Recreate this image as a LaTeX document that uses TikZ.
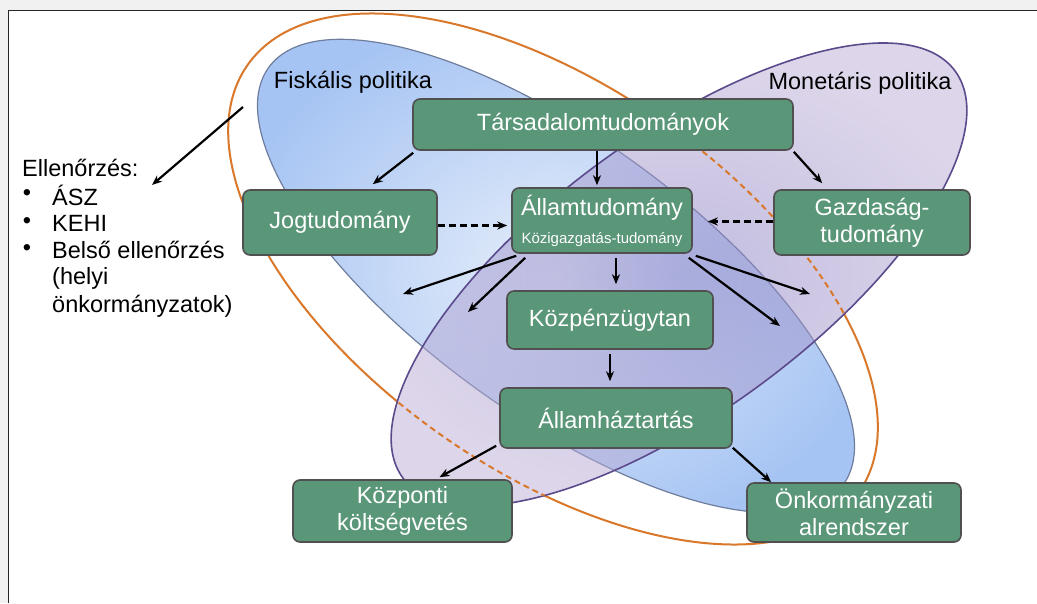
\documentclass[tikz,border=0pt]{standalone}
\usepackage{fontspec}
\setmainfont{Liberation Sans}
\usetikzlibrary{arrows.meta}
\definecolor{boxgreen}{HTML}{5A9678}
\definecolor{boxedge}{HTML}{505050}
\definecolor{orng}{HTML}{D9782A}
\definecolor{blueA}{HTML}{A6C4F3}
\definecolor{blueB}{HTML}{E6EEFA}
\definecolor{purpA}{HTML}{867CC2}
\definecolor{purpB}{HTML}{BDAFD7}
\definecolor{purpEdge}{HTML}{5B4A8C}
\definecolor{blueEdge}{HTML}{6F7D9C}
\definecolor{bandgray}{HTML}{F1F1F1}
\begin{document}
\begin{tikzpicture}[x=1pt,y=-1pt,
  box/.style={draw=boxedge, line width=1.6pt, fill=boxgreen, rounded corners=7pt,
    text=white, font=\fontsize{23.5}{27}\selectfont, align=center, inner sep=0pt},
  arr/.style={line width=2.2pt, -{Stealth[length=10pt,width=8pt]}},
  darr/.style={arr, dash pattern=on 7pt off 4pt},
  lbl/.style={font=\fontsize{23.5}{27}\selectfont, inner sep=0pt},
  orangeline/.style={orng, line width=2pt}]
\useasboundingbox (0,0) rectangle (1037,603);
\fill[white] (0,0) rectangle (1037,603);
\fill[bandgray] (0,0) rectangle (1037,10);
\fill[bandgray] (0,10) rectangle (8,603);
\draw[line width=1.8pt, black!85] (8.5,603) -- (8.5,10.5) -- (1037,10.5);

% Fiskalis (blue) ellipse
\shade[rotate around={-36:(556,276)}, inner color=blueB, outer color=blueA]
  (556,276) ellipse [x radius=355pt, y radius=138pt];
\draw[blueEdge, line width=1.2pt, rotate around={-36:(556,276)}]
  (556,276) ellipse [x radius=355pt, y radius=138pt];

% orange ellipse, solid outside the purple one
\begin{scope}[rotate around={36.4:(679,274.5)}, even odd rule]
  \clip (679,274.5) ellipse [x radius=343pt, y radius=137pt]
    (-2000,-2000) rectangle (3000,3000);
  \begin{scope}[rotate around={-36.4:(679,274.5)}]
    \draw[orangeline, rotate around={-35:(553,279)}]
      (553,279) ellipse [x radius=373pt, y radius=192pt];
  \end{scope}
\end{scope}

% Monetaris (purple) ellipse
\shade[rotate around={36.4:(679,274.5)}, inner color=purpA, outer color=purpB, fill opacity=0.5]
  (679,274.5) ellipse [x radius=343pt, y radius=137pt];
\draw[purpEdge, line width=1.6pt, rotate around={36.4:(679,274.5)}]
  (679,274.5) ellipse [x radius=343pt, y radius=137pt];

% orange ellipse, dashed inside the purple one
\begin{scope}[rotate around={36.4:(679,274.5)}]
  \clip (679,274.5) ellipse [x radius=343pt, y radius=137pt];
  \begin{scope}[rotate around={-36.4:(679,274.5)}]
    \draw[orangeline, dash pattern=on 6pt off 4pt, rotate around={-35:(553,279)}]
      (553,279) ellipse [x radius=373pt, y radius=192pt];
  \end{scope}
\end{scope}

% labels
\node[lbl] (fisk) at (353,82) {Fiskális politika};
\node[lbl] (monet) at (860,83) {Monetáris politika};
\node[lbl, anchor=west] (ell) at (22,168) {Ellenőrzés:};
\node[lbl] (b1) at (27,195) {•};
\node[lbl] (b2) at (27,223) {•};
\node[lbl] (b3) at (27,250) {•};
\node[lbl, anchor=west] (asz) at (52,195) {ÁSZ};
\node[lbl, anchor=west] (kehi) at (52,223) {KEHI};
\node[lbl, anchor=west] (belso) at (52,250) {Belső ellenőrzés};
\node[lbl, anchor=west] (helyi) at (52,278) {(helyi};
\node[lbl, anchor=west] (onkk) at (52,306) {önkormányzatok)};

% boxes
\node[box, minimum width=380pt, minimum height=51pt] (tars) at (603,124.5) {Társadalomtudományok};
\node[box, minimum width=194pt, minimum height=65pt] (jog) at (340,222.5) {Jogtudomány};
\node[box, minimum width=180pt, minimum height=65pt] (allam) at (602,220.5)
  {Államtudomány\\[1pt]{\fontsize{15}{17}\selectfont Közigazgatás-tudomány}};
\node[box, minimum width=196pt, minimum height=65pt] (gazd) at (872,222.5) {Gazdaság-\\tudomány};
\node[box, minimum width=206pt, minimum height=58pt] (kozp) at (610,320) {Közpénzügytan};
\node[box, minimum width=232pt, minimum height=60pt] (allamh) at (616,418) {Államháztartás};
\node[box, minimum width=219pt, minimum height=62pt] (kozpk) at (402.5,511) {Központi\\költségvetés};
\node[box, minimum width=214pt, minimum height=59pt] (onk) at (854,512.5) {Önkormányzati\\alrendszer};

% free ends
\coordinate (e1) at (243,107);
\coordinate (e2) at (152,185);
\coordinate (c1) at (403,294);
\coordinate (c2) at (468,312);
\coordinate (c3) at (810,294);
\coordinate (c4) at (780,326);

% connectors
\draw[arr] (e1) -- (e2);
\draw[arr] ([xshift=1pt,yshift=-2pt]tars.south west) -- ([xshift=-65pt,yshift=5pt]jog.north east);
\draw[arr] ([xshift=-6pt]tars.south) -- ([xshift=-5pt,yshift=2pt]allam.north);
\draw[arr] ([yshift=-1pt]tars.south east) -- ([xshift=49pt,yshift=6pt]gazd.north west);
\draw[darr] ([yshift=-3pt]jog.east) -- ([xshift=-4pt,yshift=-5pt]allam.west);
\draw[darr] ([yshift=1pt]gazd.west) -- ([xshift=15pt,yshift=-1pt]allam.east);
\draw[arr] ([xshift=5pt,yshift=-2pt]allam.south west) -- (c1);
\draw[arr] ([xshift=14pt,yshift=-4pt]allam.south west) -- (c2);
\draw[arr] ([xshift=3pt,yshift=-2pt]allam.south east) -- (c3);
\draw[arr] ([xshift=-4pt,yshift=-4pt]allam.south east) -- (c4);
\draw[arr] ([xshift=14pt,yshift=-4pt]allam.south) -- ([xshift=6pt,yshift=6pt]kozp.north);
\draw[arr] ([yshift=-4pt]kozp.south) -- ([xshift=-6pt,yshift=6pt]allamh.north);
\draw[arr] ([xshift=-3pt,yshift=3pt]allamh.south west) -- ([xshift=37pt,yshift=2pt]kozpk.north);
\draw[arr] ([yshift=1pt]allamh.south east) -- ([xshift=25pt]onk.north west);
\end{tikzpicture}
\end{document}
